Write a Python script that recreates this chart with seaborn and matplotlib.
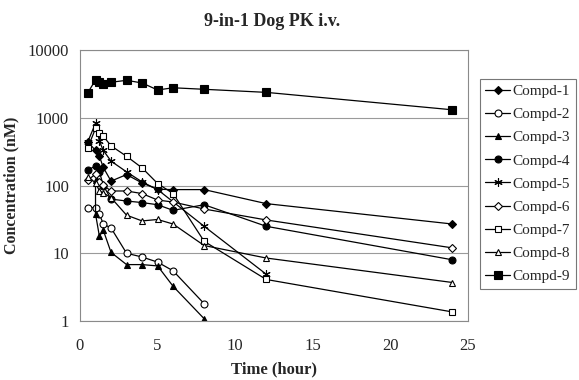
import numpy as np
import pandas as pd
import seaborn as sns
import matplotlib.pyplot as plt
from matplotlib.ticker import FixedLocator, FixedFormatter, NullLocator

nan = np.nan

# sampling times (hour)
hours = [0.5, 1, 1.25, 1.5, 2, 3, 4, 5, 6, 8, 12, 24]
# Compd-3 has two readings at 1 h
hours_compd3 = [1, 1, 1.25, 1.5, 2, 3, 4, 5, 6, 8]

compd1 = [440, 330, 270, 185, 116, 145, 109, 88, 87, 87, 54, 27]
compd2 = [47, 47, 38, 27, 23.6, 10, 8.8, 7.4, 5.5, 1.8, nan, nan]
compd3 = [120, 38, 17.8, 21.9, 10.3, 6.8, 6.8, 6.5, 3.25, 1.08]
compd4 = [168, 195, 160, 100, 63, 59, 56, 52, 43, 52, 25, 8]
compd5 = [441, 830, 450, 330, 229, 159, 113, 87, nan, 25, 4.9, nan]
compd6 = [120, 147, 113, 101, 83, 83, 76, 61, 57, 45, 31, 12]
compd7 = [360, 695, 590, 535, 385, 270, 182, 107, 76, 15, 4.1, 1.36]
compd8 = [134, 110, 83, 78, 66, 36.5, 30, 31.5, 27, 13, 8.5, 3.7]
compd9 = [2340, 3600, 3400, 3120, 3340, 3570, 3260, 2570, 2770, 2630, 2370, 1310]

names = ['Compd-1', 'Compd-2', 'Compd-3', 'Compd-4', 'Compd-5',
         'Compd-6', 'Compd-7', 'Compd-8', 'Compd-9']
series = [compd1, compd2, compd3, compd4, compd5, compd6, compd7, compd8, compd9]

frames = []
for name, vals in zip(names, series):
    t = hours_compd3 if name == 'Compd-3' else hours
    frames.append(pd.DataFrame({'time': t, 'conc': vals, 'compound': name}))
df = pd.concat(frames, ignore_index=True).dropna()

# marker shape, size, filled?
marker_style = {
    'Compd-1': ('D', 3.8, True),
    'Compd-2': ('o', 5, False),
    'Compd-3': ('^', 5, True),
    'Compd-4': ('o', 5, True),
    'Compd-5': ((6, 2, 0), 6, True),   # asterisk, set after plotting
    'Compd-6': ('D', 3.8, False),
    'Compd-7': ('s', 5, False),
    'Compd-8': ('^', 5, False),
    'Compd-9': ('s', 5.3, True),
}

sns.set_style('white')
plt.rcParams['font.family'] = ['Liberation Serif', 'DejaVu Serif']

fig = plt.figure(figsize=(5.79, 3.8), dpi=100)
ax = fig.add_axes([80 / 579, 1 - 321 / 380, 388 / 579, 271 / 380])

# seaborn refuses mixing line-art and filled markers, use 'X' as placeholder
sns_markers = {n: ('X' if n == 'Compd-5' else marker_style[n][0]) for n in names}
sns.lineplot(data=df, x='time', y='conc', hue='compound', style='compound',
             hue_order=names, style_order=names,
             palette=['black'] * 9, dashes=False, markers=sns_markers,
             estimator=None, sort=False, legend=False, linewidth=0.9, ax=ax)

lines = ax.get_lines()
for line, name in zip(lines, names):
    m, ms, filled = marker_style[name]
    line.set_marker(m)
    line.set_markersize(ms)
    line.set_markeredgecolor('black')
    line.set_markeredgewidth(0.8)
    line.set_markerfacecolor('black' if filled else 'white')
    line.set_label(name)

ax.set_yscale('log')
ax.set_xlim(0, 25)
ax.set_ylim(1, 10000)
ax.xaxis.set_major_locator(FixedLocator([0, 5, 10, 15, 20, 25]))
ax.yaxis.set_major_locator(FixedLocator([1, 10, 100, 1000, 10000]))
ax.yaxis.set_major_formatter(FixedFormatter(['1', '10', '100', '1000', '10000']))
ax.yaxis.set_minor_locator(NullLocator())
ax.tick_params(axis='both', labelsize=12, direction='out', length=4,
               width=0.8, color='#808080')
ax.tick_params(axis='x', pad=8)
ax.tick_params(axis='y', pad=4)
ax.grid(axis='y', color='#9a9a9a', linewidth=0.8)
ax.grid(axis='x', visible=False)
for sp in ax.spines.values():
    sp.set_color('#8a8a8a')
    sp.set_linewidth(0.8)

ax.set_xlabel('Time (hour)', fontsize=12, fontweight='bold')
ax.set_ylabel('Concentration (nM)', fontsize=11.5, fontweight='bold')
ax.xaxis.set_label_coords(0.5, -0.15)
ax.yaxis.set_label_coords(-0.155, 0.5)

fig.text(272 / 579, 1 - 22 / 380, '9-in-1 Dog PK i.v.', ha='center', va='center',
         fontsize=13, fontweight='bold')

leg = fig.legend(handles=lines[:9], labels=names, loc='upper left',
                 bbox_to_anchor=(480 / 579, 1 - 79 / 380), borderaxespad=0,
                 frameon=True, fancybox=False, fontsize=11, labelspacing=0.62,
                 handlelength=1.6, handletextpad=0.2, borderpad=0.35)
leg.get_frame().set_edgecolor('#555555')
leg.get_frame().set_linewidth(0.8)

fig.savefig('out.png', dpi=100)
